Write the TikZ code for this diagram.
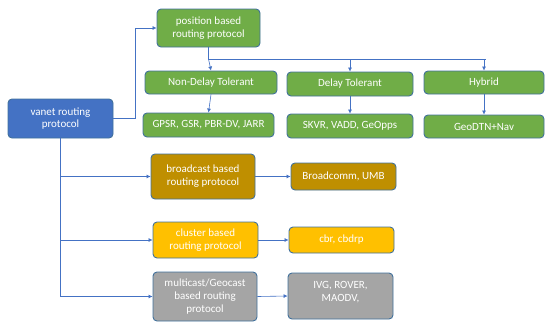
\documentclass[tikz,border=0pt]{standalone}
\usepackage{fontspec}
\setmainfont{Carlito}
\usepackage{tikz}
\usetikzlibrary{arrows.meta}

\definecolor{ogreen}{HTML}{70AD47}
\definecolor{oblue}{HTML}{4472C4}
\definecolor{odark}{HTML}{BF8F00}
\definecolor{ogold}{HTML}{FFC000}
\definecolor{ogray}{HTML}{A5A5A5}
\definecolor{oline}{HTML}{41719C}

\begin{document}
\begin{tikzpicture}[x=1pt,y=-1pt,
                box/.style={draw=oline,line width=0.9pt,rounded corners=4pt,text=white,
                        align=center,inner sep=1pt,font=\fontsize{11}{12.8}\selectfont},
                link/.style={draw=oblue,line width=0.6pt,-{Latex[length=4pt,width=4pt]}}]
                \useasboundingbox (0,0) rectangle (545,322);
                % root
                \node [box,fill=oblue,minimum width=105pt,minimum height=39pt] (vanet) at (60.5,118.5) {vanet routing\\protocol};
                % position based branch
                \node [box,fill=ogreen,minimum width=103pt,minimum height=38pt] (pos) at (208.5,28) {position based\\routing protocol};
                \node [box,fill=ogreen,minimum width=132pt,minimum height=23pt] (nondelay) at (211,82.5) {Non-Delay Tolerant};
                \node [box,fill=ogreen,minimum width=126pt,minimum height=24pt] (delay) at (350,84) {Delay Tolerant};
                \node [box,fill=ogreen,minimum width=120pt,minimum height=23pt] (hybrid) at (484,82.5) {Hybrid};
                \node [box,fill=ogreen,minimum width=131pt,minimum height=24pt] (gpsr) at (208.5,125) {GPSR, GSR, PBR-DV, JARR};
                \node [box,fill=ogreen,minimum width=126pt,minimum height=24pt] (skvr) at (350,126) {SKVR, VADD, GeOpps};
                \node [box,fill=ogreen,minimum width=120pt,minimum height=23pt] (geodtn) at (484,126.5) {GeoDTN+Nav};
                % other protocols
                \node [box,fill=odark,minimum width=104pt,minimum height=45pt] (bcast) at (203,176.5) {broadcast based\\routing protocol};
                \node [box,fill=odark,minimum width=105pt,minimum height=27pt] (bcomm) at (343.5,176.5) {Broadcomm, UMB};
                \node [box,fill=ogold,minimum width=105pt,minimum height=36pt] (cluster) at (205.5,240) {cluster based\\routing protocol};
                \node [box,fill=ogold,minimum width=105pt,minimum height=26pt] (cbr) at (341.5,240) {cbr, cbdrp};
                \node [box,fill=ogray,minimum width=104pt,minimum height=49pt] (mcast) at (205,296.5) {multicast/Geocast\\based routing\\protocol};
                \node [box,fill=ogray,minimum width=105pt,minimum height=46pt,text height=20pt,text depth=10pt] (ivg) at (340.5,296) {IVG, ROVER,\\MAODV,};
                % connectors
                \coordinate (bus) at (208.5,59);
                \draw [link] (vanet.east) -- ++(22,0) |- (pos.west);
                \draw [draw=oblue,line width=0.6pt] (pos.south) -- (bus) -- (486,59);
                \draw [link] (bus) -- (nondelay.north);
                \draw [link] (bus) -| (delay.north);
                \draw [link] (bus) -| (hybrid.north);
                \draw [link] (nondelay.south) -- (gpsr.north);
                \draw [link] (delay.south) -- (skvr.north);
                \draw [link] (hybrid.south) -- (geodtn.north);
                \draw [link] (vanet.south) |- (bcast.west);
                \draw [link] (vanet.south) |- (cluster.west);
                \draw [link] (vanet.south) |- (mcast.west);
                \draw [link] (bcast.east) -- (bcomm.west);
                \draw [link] (cluster.east) -- (cbr.west);
                \draw [link] (mcast.east) -- (ivg.west);
\end{tikzpicture}
\end{document}
